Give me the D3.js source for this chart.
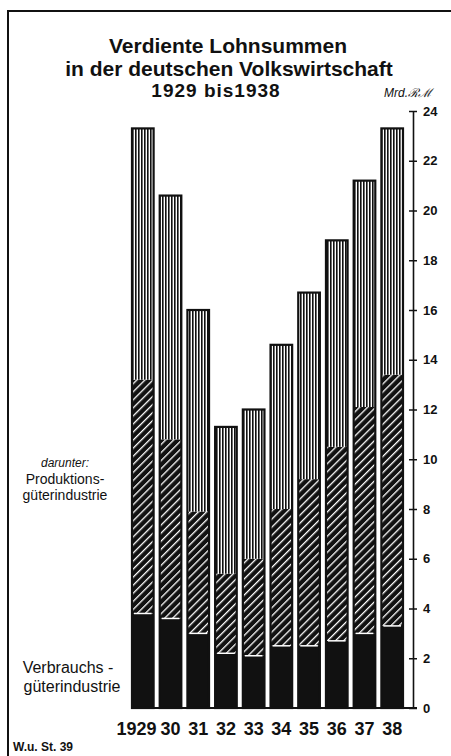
<!DOCTYPE html>
<html>
<head>
<meta charset="utf-8">
<script src="https://cdn.jsdelivr.net/npm/d3@7"></script>
<style>
  body { margin: 0; background: #fff; }
  text { fill: #111; }
</style>
</head>
<body>
<div id="chart-area"></div>
<script>
// Lohnsummen in Mrd. RM
const years = ['1929', '30', '31', '32', '33', '34', '35', '36', '37', '38'];
const verbrauch = [3.8, 3.6, 3.0, 2.2, 2.1, 2.5, 2.5, 2.7, 3.0, 3.3];
const produktion = [9.4, 7.2, 4.9, 3.2, 3.9, 5.5, 6.7, 7.8, 9.1, 10.1];
const uebrige = [10.1, 9.8, 8.1, 5.9, 6.0, 6.6, 7.5, 8.3, 9.1, 9.9];
const yTicks = [0, 2, 4, 6, 8, 10, 12, 14, 16, 18, 20, 22, 24];
const keys = ['verbrauch', 'produktion', 'uebrige'];

const W = 451, H = 756;
const font = '"Liberation Sans", Arial, sans-serif';

const svg = d3.select('#chart-area')
  .append('svg')
  .attr('width', W)
  .attr('height', H);

svg.append('rect').attr('width', W).attr('height', H).attr('fill', '#fff');

// patterns
const defs = svg.append('defs');
const stripes = defs.append('pattern')
  .attr('id', 'stripes')
  .attr('patternUnits', 'userSpaceOnUse')
  .attr('width', 3).attr('height', 6);
stripes.append('rect').attr('width', 3).attr('height', 6).attr('fill', '#fff');
stripes.append('rect').attr('width', 1.6).attr('height', 6).attr('fill', '#111');

const hatch = defs.append('pattern')
  .attr('id', 'hatch')
  .attr('patternUnits', 'userSpaceOnUse')
  .attr('width', 5.7).attr('height', 8)
  .attr('patternTransform', 'rotate(45)');
hatch.append('rect').attr('width', 5.7).attr('height', 8).attr('fill', '#111');
hatch.append('rect').attr('width', 1.3).attr('height', 8).attr('fill', '#fff');

const fills = {verbrauch: '#111', produktion: 'url(#hatch)', uebrige: 'url(#stripes)'};

// frame
svg.append('path')
  .attr('d', `M8,${H} L8,11 L${W},11`)
  .attr('fill', 'none')
  .attr('stroke', '#111')
  .attr('stroke-width', 2);

// scales
const x = d3.scaleBand()
  .domain(years)
  .range([132, 403])
  .paddingInner(0.22)
  .paddingOuter(0);

const y = d3.scaleLinear()
  .domain([0, 24])
  .range([708, 111]);

const data = years.map((yr, i) => ({
  year: yr, verbrauch: verbrauch[i], produktion: produktion[i], uebrige: uebrige[i]
}));
const series = d3.stack().keys(keys)(data);

// bars
const layers = svg.append('g').selectAll('g')
  .data(series)
  .enter()
  .append('g')
  .attr('fill', d => fills[d.key]);

layers.selectAll('rect')
  .data(d => d)
  .enter()
  .append('rect')
  .attr('x', d => x(d.data.year))
  .attr('y', d => y(d[1]))
  .attr('width', x.bandwidth())
  .attr('height', d => y(d[0]) - y(d[1]));

// white line between Verbrauch and Produktion
svg.append('g').selectAll('line')
  .data(series[0])
  .enter()
  .append('line')
  .attr('x1', d => x(d.data.year) + 2)
  .attr('x2', d => x(d.data.year) + x.bandwidth() - 2)
  .attr('y1', d => y(d[1]))
  .attr('y2', d => y(d[1]))
  .attr('stroke', '#fff')
  .attr('stroke-width', 1.5);

// bar outlines
svg.append('g').selectAll('rect')
  .data(series[2])
  .enter()
  .append('rect')
  .attr('x', d => x(d.data.year))
  .attr('y', d => y(d[1]))
  .attr('width', x.bandwidth())
  .attr('height', d => y(0) - y(d[1]))
  .attr('fill', 'none')
  .attr('stroke', '#111')
  .attr('stroke-width', 2.2);

// baseline
svg.append('line')
  .attr('x1', 131).attr('x2', 417)
  .attr('y1', y(0)).attr('y2', y(0))
  .attr('stroke', '#111').attr('stroke-width', 1.8);

// y axis on the right
const yAxis = svg.append('g')
  .attr('transform', 'translate(413,0)')
  .call(d3.axisRight(y).tickValues(yTicks).tickSize(4).tickSizeOuter(0).tickPadding(6));

yAxis.select('.domain').attr('stroke', '#111').attr('stroke-width', 1.6);
yAxis.selectAll('.tick line').attr('x1', -4).attr('stroke', '#111').attr('stroke-width', 1.5);
yAxis.selectAll('.tick text')
  .attr('font-family', font)
  .attr('font-size', 13)
  .attr('font-weight', 'bold')
  .attr('fill', '#111');

// x labels
svg.append('g').selectAll('text')
  .data(years)
  .enter()
  .append('text')
  .attr('x', (d, i) => i === 0 ? x(d) + x.bandwidth() + 3 : x(d) + x.bandwidth() / 2)
  .attr('y', 735)
  .attr('text-anchor', (d, i) => i === 0 ? 'end' : 'middle')
  .attr('font-family', font)
  .attr('font-size', 18)
  .attr('font-weight', 'bold')
  .text(d => d);

// unit
svg.append('text')
  .attr('x', 384).attr('y', 97)
  .attr('font-family', font)
  .attr('font-size', 12)
  .attr('font-style', 'italic')
  .text('Mrd.ℛℳ');

// title
const title = [
  {t: 'Verdiente Lohnsummen', x: 228, y: 53, s: 21, ls: 0},
  {t: 'in der deutschen Volkswirtschaft', x: 229, y: 76, s: 21, ls: 0},
  {t: '1929 bis1938', x: 216, y: 97, s: 19, ls: 1}
];
svg.append('g').selectAll('text')
  .data(title)
  .enter()
  .append('text')
  .attr('x', d => d.x).attr('y', d => d.y)
  .attr('text-anchor', 'middle')
  .attr('font-family', font)
  .attr('font-weight', 'bold')
  .attr('font-size', d => d.s)
  .attr('letter-spacing', d => d.ls)
  .text(d => d.t);

// left labels
svg.append('text')
  .attr('x', 65).attr('y', 467)
  .attr('text-anchor', 'middle')
  .attr('font-family', font)
  .attr('font-size', 12)
  .attr('font-style', 'italic')
  .text('darunter:');

svg.append('text')
  .attr('x', 65).attr('y', 484)
  .attr('text-anchor', 'middle')
  .attr('font-family', font)
  .attr('font-size', 14)
  .text('Produktions-');
svg.append('text')
  .attr('x', 65).attr('y', 500)
  .attr('text-anchor', 'middle')
  .attr('font-family', font)
  .attr('font-size', 14)
  .text('güterindustrie');

svg.append('text')
  .attr('x', 68).attr('y', 673)
  .attr('text-anchor', 'middle')
  .attr('font-family', font)
  .attr('font-size', 16)
  .text('Verbrauchs -');
svg.append('text')
  .attr('x', 72).attr('y', 692)
  .attr('text-anchor', 'middle')
  .attr('font-family', font)
  .attr('font-size', 16)
  .text('güterindustrie');

// source
svg.append('text')
  .attr('x', 13).attr('y', 751)
  .attr('font-family', font)
  .attr('font-size', 12)
  .attr('font-weight', 'bold')
  .text('W.u. St. 39');
</script>
</body>
</html>
